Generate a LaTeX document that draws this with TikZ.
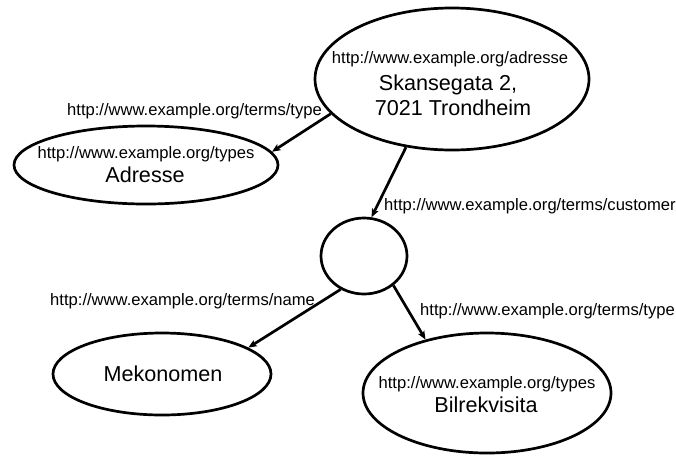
\documentclass[tikz,border=0pt]{standalone}
\usepackage{fontspec}
\setmainfont{Liberation Sans}
\usetikzlibrary{shapes.geometric,arrows.meta}
\begin{document}
\begin{tikzpicture}[x=1pt,y=-1pt,
  res/.style={ellipse,draw,line width=2.7pt,inner sep=0pt},
  small/.style={font=\fontsize{16.6}{19}\selectfont,inner sep=0pt,anchor=base},
  big/.style={font=\fontsize{21.6}{25}\selectfont,inner sep=0pt,anchor=base},
  rel/.style={line width=2.7pt,-{Stealth[length=8.5pt,width=7pt,inset=2pt]}}]
  \useasboundingbox[fill=white] (0,0) rectangle (676,456);

  % resources
  \node[res,minimum width=274pt,minimum height=142pt] (adr) at (452,79) {};
  \node[res,minimum width=264pt,minimum height=78pt] (typ) at (146,165) {};
  \node[res,minimum width=86pt,minimum height=76pt] (blank) at (364,256) {};
  \node[res,minimum width=218pt,minimum height=82pt] (mek) at (162,374) {};
  \node[res,minimum width=248pt,minimum height=120pt] (bil) at (487,393) {};

  % texts inside the resources
  \node[small] (adrUri) at (450,63) {http://www.example.org/adresse};
  \node[big] (adrL1) at (448,90.5) {Skansegata 2,};
  \node[big] (adrL2) at (453,115.5) {7021 Trondheim};
  \node[small] (typUri) at (146,158.6) {http://www.example.org/types};
  \node[big] (typName) at (145,182.8) {Adresse};
  \node[big] (mekName) at (163,381.5) {Mekonomen};
  \node[small] (bilUri) at (487,388.6) {http://www.example.org/types};
  \node[big] (bilName) at (486,412.8) {Bilrekvisita};

  % properties
  \draw[rel] (adr.196) -- (typ.6);
  \draw[rel] (adr.236) -- (blank.79);
  \draw[rel] (blank.235) -- (mek.17);
  \draw[rel] (blank.-45) -- (bil.139);

  % property labels
  \node[small,anchor=base east] (pType1) at (322,115) {http://www.example.org/terms/type};
  \node[small,anchor=base west] (pCust) at (384,210) {http://www.example.org/terms/customer};
  \node[small,anchor=base west] (pName) at (50,305) {http://www.example.org/terms/name};
  \node[small,anchor=base west] (pType2) at (420,315) {http://www.example.org/terms/type};
\end{tikzpicture}
\end{document}
